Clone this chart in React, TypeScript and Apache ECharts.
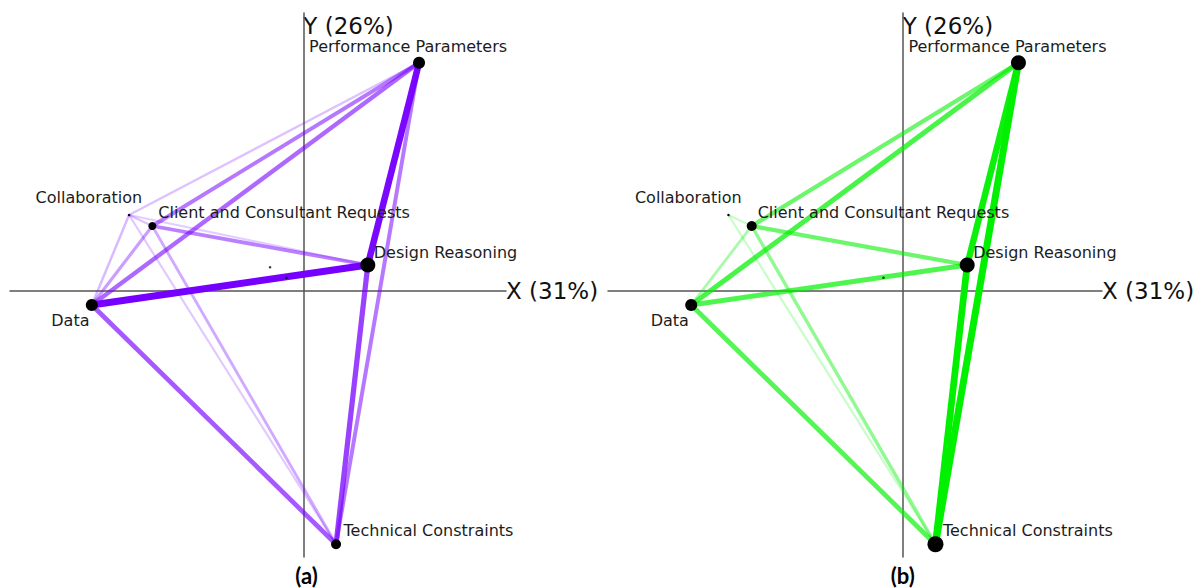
import React, { useEffect, useRef } from "react";
import * as echarts from "echarts";

// ---- Data ----
const NODES = [
  "Performance Parameters",
  "Collaboration",
  "Client and Consultant Requests",
  "Design Reasoning",
  "Data",
  "Technical Constraints",
];
const NODE_X = [0.463, -0.697, -0.604, 0.258, -0.846, 0.131];
const NODE_Y = [0.913, 0.304, 0.26, 0.104, -0.056, -1.013];

const NODE_SIZE_A = [12, 2.5, 8, 15, 12, 10];
const NODE_SIZE_B = [15, 2.5, 10, 15, 12, 16];

// [source, target, weight]
const EDGES_A: [string, string, number][] = [
  ["Data", "Design Reasoning", 1.0],
  ["Design Reasoning", "Performance Parameters", 0.92],
  ["Design Reasoning", "Technical Constraints", 0.68],
  ["Data", "Technical Constraints", 0.58],
  ["Data", "Performance Parameters", 0.52],
  ["Performance Parameters", "Technical Constraints", 0.45],
  ["Client and Consultant Requests", "Performance Parameters", 0.45],
  ["Client and Consultant Requests", "Design Reasoning", 0.42],
  ["Client and Consultant Requests", "Data", 0.3],
  ["Client and Consultant Requests", "Technical Constraints", 0.25],
  ["Collaboration", "Data", 0.18],
  ["Collaboration", "Performance Parameters", 0.15],
  ["Collaboration", "Client and Consultant Requests", 0.15],
  ["Collaboration", "Technical Constraints", 0.12],
  ["Collaboration", "Design Reasoning", 0.1],
];

const EDGES_B: [string, string, number][] = [
  ["Performance Parameters", "Technical Constraints", 1.0],
  ["Design Reasoning", "Technical Constraints", 0.95],
  ["Design Reasoning", "Performance Parameters", 0.9],
  ["Data", "Performance Parameters", 0.65],
  ["Data", "Design Reasoning", 0.62],
  ["Data", "Technical Constraints", 0.6],
  ["Client and Consultant Requests", "Performance Parameters", 0.5],
  ["Client and Consultant Requests", "Design Reasoning", 0.5],
  ["Client and Consultant Requests", "Technical Constraints", 0.35],
  ["Client and Consultant Requests", "Data", 0.25],
  ["Collaboration", "Technical Constraints", 0.12],
  ["Collaboration", "Client and Consultant Requests", 0.12],
];

const MEANS_A = [
  [-0.133, 0.095],
  [-0.067, 0.053],
];
const MEANS_B = [[-0.077, 0.053]];

const X_NAME = "X (31%)";
const Y_NAME = "Y (26%)";
const PANEL_LABELS = ["(a)", "(b)"];

// ---- Styles / layout ----
const LABEL_OFFSET: [number, number][] = [
  [-110, -16.5],
  [-93.5, -17.5],
  [6, -13.5],
  [6, -13],
  [-40.5, 15.5],
  [7.5, -13.5],
];
const PURPLE = "118,0,255";
const GREEN = "0,240,0";
const FONT = "DejaVu Sans";

function buildGraph(idx: number, sizes: number[], edges: [string, string, number][], rgb: string) {
  return {
    type: "graph",
    coordinateSystem: "cartesian2d",
    xAxisIndex: idx,
    yAxisIndex: idx,
    layout: "none",
    silent: true,
    roam: false,
    z: 3,
    symbol: "circle",
    itemStyle: { color: "#000" },
    lineStyle: { opacity: 1, curveness: 0 },
    label: {
      show: true,
      position: "inside",
      align: "left",
      verticalAlign: "middle",
      color: "#1c1c1c",
      fontFamily: FONT,
      fontSize: 16,
    },
    emphasis: { disabled: true },
    data: NODES.map((name, i) => ({
      name,
      value: [NODE_X[i], NODE_Y[i]],
      symbolSize: sizes[i],
      label: { offset: LABEL_OFFSET[i] },
    })),
    links: edges
      .slice()
      .sort((a, b) => a[2] - b[2])
      .map(([s, t, w]) => ({
        source: s,
        target: t,
        lineStyle: {
          width: 1.5 + 5.5 * w,
          color: `rgba(${rgb},${Math.min(1, 0.1 + 0.95 * w)})`,
          opacity: 1,
        },
      })),
  };
}

const K = 250; // px per unit
const grids = [
  { left: 10, top: 13, width: 496, height: 544, ox: 303.3 },
  { left: 608, top: 13, width: 494, height: 544, ox: 902.7 },
];
const ORIGIN_Y = 291;

function axisLineStyle() {
  return { show: true, onZero: true, lineStyle: { color: "#555", width: 1.5 } };
}

export default function App() {
  const ref = useRef<HTMLDivElement>(null);
  useEffect(() => {
    document.body.style.margin = "0";
    document.body.style.overflow = "hidden";
    if (!ref.current) return;
    const chart = echarts.init(ref.current, undefined, { renderer: "svg" });
    const xAxes = grids.map((g, i) => ({
      gridIndex: i,
      type: "value",
      min: (g.left - g.ox) / K,
      max: (g.left + g.width - g.ox) / K,
      axisLine: axisLineStyle(),
      axisTick: { show: false },
      axisLabel: { show: false },
      splitLine: { show: false },
      name: X_NAME,
      nameLocation: "end",
      nameGap: 0,
      nameTextStyle: {
        fontFamily: FONT,
        fontSize: 23,
        color: "#111",
        align: "left",
        verticalAlign: "middle",
        padding: [0, 0, 20, 0],
      },
    }));
    const yAxes = grids.map((g, i) => ({
      gridIndex: i,
      type: "value",
      min: (ORIGIN_Y - (g.top + g.height)) / K,
      max: (ORIGIN_Y - g.top) / K,
      axisLine: axisLineStyle(),
      axisTick: { show: false },
      axisLabel: { show: false },
      splitLine: { show: false },
      name: Y_NAME,
      nameLocation: "end",
      nameGap: -13,
      nameTextStyle: {
        fontFamily: FONT,
        fontSize: 23,
        color: "#111",
        align: "left",
        verticalAlign: "middle",
      },
    }));
    chart.setOption({
      animation: false,
      backgroundColor: "#fff",
      grid: grids.map((g) => ({ left: g.left, top: g.top, width: g.width, height: g.height })),
      xAxis: xAxes,
      yAxis: yAxes,
      graphic: PANEL_LABELS.map((t, i) => ({
        type: "text",
        x: [306.5, 902.7][i],
        y: 575,
        style: {
          text: t,
          fontFamily: "Lato",
          fontWeight: "bold",
          fontSize: 22,
          fill: "#000",
          textAlign: "center",
          textVerticalAlign: "middle",
        },
      })),
      series: [
        buildGraph(0, NODE_SIZE_A, EDGES_A, PURPLE),
        buildGraph(1, NODE_SIZE_B, EDGES_B, GREEN),
        {
          type: "scatter",
          xAxisIndex: 0,
          yAxisIndex: 0,
          symbolSize: 2.5,
          itemStyle: { color: "#000" },
          silent: true,
          z: 4,
          data: MEANS_A,
        },
        {
          type: "scatter",
          xAxisIndex: 1,
          yAxisIndex: 1,
          symbolSize: 2.5,
          itemStyle: { color: "#000" },
          silent: true,
          z: 4,
          data: MEANS_B,
        },
      ],
    });
    return () => chart.dispose();
  }, []);
  return <div ref={ref} style={{ width: 1203, height: 588 }} />;
}
